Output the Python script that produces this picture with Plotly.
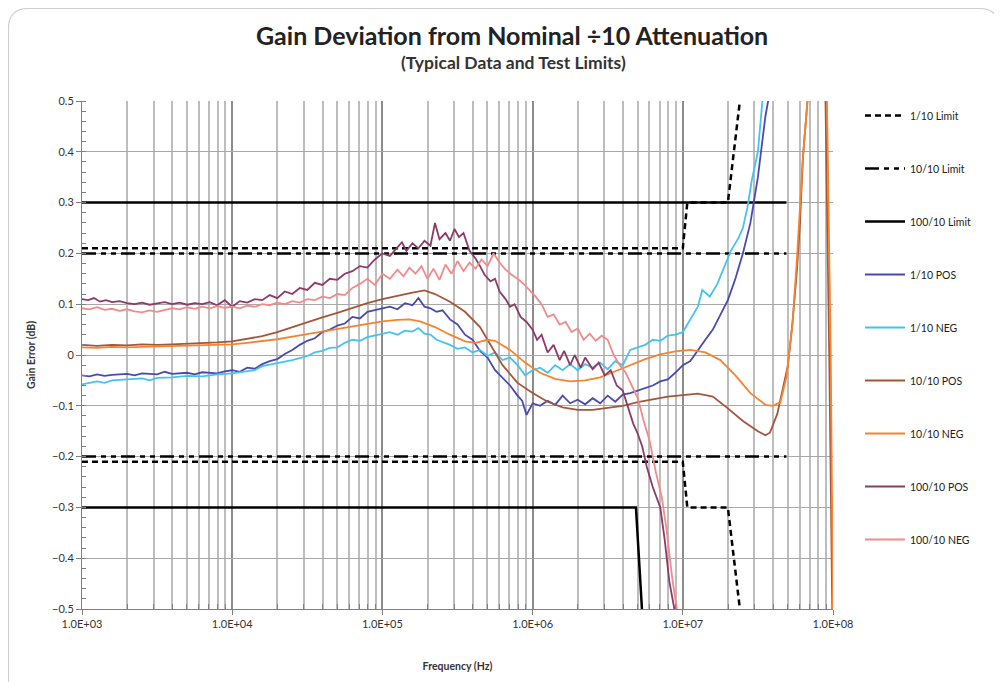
import plotly.graph_objects as go

# ---------------- data (x given as log10 of frequency in Hz) ----------------
LIM_1_10_X = [3.0, 7.0, 7.03, 7.30, 7.38, None, 3.0, 7.0, 7.03, 7.30, 7.38]
LIM_1_10_Y = [0.21, 0.21, 0.30, 0.30, 0.50, None, -0.21, -0.21, -0.30, -0.30, -0.50]

LIM_10_10_X = [3.0, 7.69, None, 3.0, 7.69]
LIM_10_10_Y = [0.20, 0.20, None, -0.20, -0.20]

LIM_100_10_X = [3.0, 7.69, None, 3.0, 6.688, 6.728]
LIM_100_10_Y = [0.30, 0.30, None, -0.30, -0.30, -0.50]

POS_1_X = [3.00, 3.05, 3.10, 3.15, 3.20, 3.30, 3.35, 3.40, 3.50, 3.55, 3.60, 3.70, 3.75, 3.80,
           3.90, 3.95, 4.00, 4.05, 4.10, 4.15, 4.20, 4.25, 4.30, 4.35, 4.40, 4.45, 4.50, 4.55,
           4.60, 4.65, 4.70, 4.75, 4.80, 4.85, 4.90, 4.95, 5.00, 5.05, 5.10, 5.15, 5.20, 5.24,
           5.28, 5.32, 5.36, 5.40, 5.45, 5.50, 5.55, 5.60, 5.65, 5.70, 5.75, 5.80, 5.85, 5.90,
           5.93, 5.96, 6.00, 6.05, 6.10, 6.15, 6.20, 6.25, 6.30, 6.35, 6.40, 6.45, 6.50, 6.55,
           6.60, 6.65, 6.70, 6.75, 6.80, 6.85, 6.90, 6.95, 7.00, 7.05, 7.10, 7.15, 7.20, 7.25,
           7.30, 7.35, 7.40, 7.45, 7.50, 7.55, 7.58]
POS_1_Y = [-0.040, -0.042, -0.038, -0.041, -0.039, -0.037, -0.040, -0.036, -0.038, -0.033,
           -0.037, -0.035, -0.038, -0.034, -0.036, -0.032, -0.030, -0.033, -0.025, -0.027,
           -0.018, -0.012, -0.008, 0.002, 0.010, 0.020, 0.028, 0.033, 0.045, 0.050, 0.058,
           0.062, 0.075, 0.072, 0.085, 0.088, 0.092, 0.095, 0.090, 0.102, 0.098, 0.112, 0.095,
           0.092, 0.085, 0.088, 0.070, 0.060, 0.040, 0.030, 0.008, -0.005, -0.030, -0.045,
           -0.060, -0.080, -0.090, -0.118, -0.095, -0.100, -0.090, -0.098, -0.080, -0.095,
           -0.088, -0.097, -0.085, -0.095, -0.080, -0.092, -0.078, -0.075, -0.070, -0.065,
           -0.060, -0.052, -0.048, -0.035, -0.020, -0.012, 0.010, 0.030, 0.050, 0.080, 0.108,
           0.150, 0.200, 0.260, 0.350, 0.470, 0.520]

NEG_1_X = [3.00, 3.05, 3.10, 3.15, 3.20, 3.30, 3.40, 3.45, 3.50, 3.60, 3.70, 3.80, 3.90, 4.00,
           4.10, 4.15, 4.20, 4.30, 4.40, 4.50, 4.55, 4.60, 4.65, 4.70, 4.75, 4.80, 4.85, 4.90,
           4.95, 5.00, 5.05, 5.10, 5.15, 5.20, 5.24, 5.28, 5.32, 5.36, 5.40, 5.45, 5.50, 5.55,
           5.60, 5.65, 5.70, 5.75, 5.80, 5.85, 5.90, 5.95, 6.00, 6.05, 6.10, 6.15, 6.20, 6.25,
           6.30, 6.35, 6.40, 6.45, 6.50, 6.55, 6.60, 6.65, 6.70, 6.75, 6.80, 6.85, 6.90, 6.95,
           7.00, 7.05, 7.10, 7.13, 7.18, 7.23, 7.28, 7.32, 7.37, 7.40, 7.43, 7.46, 7.50, 7.53,
           7.55]
NEG_1_Y = [-0.058, -0.055, -0.052, -0.055, -0.050, -0.048, -0.046, -0.050, -0.045, -0.044,
           -0.041, -0.042, -0.038, -0.036, -0.032, -0.030, -0.022, -0.016, -0.010, -0.002,
           0.005, 0.008, 0.014, 0.015, 0.024, 0.030, 0.028, 0.035, 0.038, 0.042, 0.045, 0.040,
           0.048, 0.046, 0.053, 0.042, 0.040, 0.030, 0.025, 0.020, 0.012, 0.015, 0.005, 0.010,
           -0.002, 0.005, -0.010, -0.005, -0.020, -0.040, -0.030, -0.025, -0.035, -0.020,
           -0.030, -0.018, -0.030, -0.018, -0.025, -0.015, -0.028, -0.012, -0.020, 0.010,
           0.015, 0.020, 0.030, 0.028, 0.038, 0.040, 0.045, 0.070, 0.095, 0.128, 0.115, 0.140,
           0.175, 0.205, 0.230, 0.250, 0.290, 0.345, 0.400, 0.500, 0.540]

POS_10_X = [3.00, 3.10, 3.20, 3.30, 3.40, 3.50, 3.60, 3.70, 3.80, 3.90, 4.00, 4.10, 4.20, 4.30,
            4.40, 4.50, 4.60, 4.70, 4.80, 4.90, 5.00, 5.10, 5.20, 5.28, 5.35, 5.45, 5.55, 5.65,
            5.72, 5.80, 5.90, 6.00, 6.10, 6.20, 6.30, 6.40, 6.50, 6.60, 6.70, 6.80, 6.90, 7.00,
            7.10, 7.20, 7.30, 7.40, 7.45, 7.50, 7.55, 7.58, 7.63, 7.67, 7.70, 7.73, 7.76, 7.78,
            7.80, 7.83, 7.88, 7.93, 7.95, 7.975, 7.995]
POS_10_Y = [0.020, 0.018, 0.020, 0.019, 0.021, 0.020, 0.021, 0.022, 0.023, 0.025, 0.027,
            0.032, 0.037, 0.045, 0.055, 0.064, 0.074, 0.083, 0.093, 0.102, 0.110, 0.117,
            0.123, 0.127, 0.120, 0.105, 0.085, 0.055, 0.020, -0.020, -0.055, -0.075, -0.092,
            -0.103, -0.108, -0.108, -0.104, -0.100, -0.093, -0.087, -0.082, -0.079, -0.076,
            -0.082, -0.105, -0.130, -0.140, -0.150, -0.158, -0.153, -0.115, -0.060, -0.020,
            0.063, 0.167, 0.260, 0.390, 0.500, 0.800, 0.800, 0.500, 0.000, -0.500]

NEG_10_X = [3.00, 3.10, 3.20, 3.30, 3.40, 3.50, 3.60, 3.70, 3.80, 3.90, 4.00, 4.10, 4.20, 4.30,
            4.40, 4.50, 4.60, 4.70, 4.80, 4.90, 5.00, 5.10, 5.18, 5.25, 5.35, 5.45, 5.55, 5.62,
            5.70, 5.75, 5.85, 5.95, 6.05, 6.15, 6.25, 6.35, 6.45, 6.55, 6.65, 6.75, 6.85, 6.95,
            7.05, 7.15, 7.25, 7.35, 7.45, 7.55, 7.60, 7.65, 7.69, 7.73, 7.76, 7.80, 7.83, 7.88,
            7.94, 7.96, 7.985, 8.00]
NEG_10_Y = [0.015, 0.014, 0.016, 0.015, 0.016, 0.017, 0.017, 0.018, 0.019, 0.020, 0.021,
            0.024, 0.027, 0.031, 0.036, 0.041, 0.046, 0.051, 0.056, 0.062, 0.066, 0.069,
            0.070, 0.066, 0.055, 0.040, 0.027, 0.024, 0.030, 0.028, 0.010, -0.015, -0.035,
            -0.047, -0.052, -0.050, -0.044, -0.032, -0.020, -0.008, 0.001, 0.007, 0.010,
            0.005, -0.010, -0.040, -0.075, -0.098, -0.100, -0.093, -0.043, 0.060, 0.190,
            0.390, 0.500, 0.800, 0.800, 0.500, 0.000, -0.500]

POS_100_X = [3.00, 3.04, 3.08, 3.12, 3.16, 3.20, 3.25, 3.30, 3.35, 3.40, 3.45, 3.50, 3.55, 3.60,
             3.65, 3.70, 3.75, 3.80, 3.85, 3.90, 3.95, 4.00, 4.05, 4.10, 4.15, 4.20, 4.25, 4.30,
             4.35, 4.40, 4.45, 4.50, 4.55, 4.60, 4.65, 4.70, 4.75, 4.80, 4.85, 4.90, 4.95, 5.00,
             5.05, 5.10, 5.13, 5.16, 5.20, 5.24, 5.28, 5.32, 5.35, 5.38, 5.42, 5.45, 5.48, 5.51,
             5.54, 5.58, 5.62, 5.65, 5.68, 5.72, 5.75, 5.78, 5.82, 5.85, 5.88, 5.92, 5.96, 6.00,
             6.03, 6.06, 6.10, 6.14, 6.18, 6.21, 6.25, 6.28, 6.32, 6.35, 6.40, 6.44, 6.48, 6.52,
             6.56, 6.60, 6.63, 6.67, 6.70, 6.73, 6.76, 6.80, 6.85, 6.88, 6.91, 6.95]
POS_100_Y = [0.110, 0.108, 0.112, 0.105, 0.108, 0.104, 0.106, 0.102, 0.100, 0.103, 0.099,
             0.101, 0.104, 0.100, 0.103, 0.099, 0.102, 0.100, 0.104, 0.098, 0.108, 0.095,
             0.106, 0.103, 0.110, 0.108, 0.118, 0.112, 0.125, 0.120, 0.132, 0.128, 0.142,
             0.138, 0.150, 0.148, 0.160, 0.165, 0.175, 0.172, 0.188, 0.200, 0.195, 0.212,
             0.222, 0.205, 0.220, 0.210, 0.225, 0.215, 0.260, 0.228, 0.240, 0.225, 0.248,
             0.232, 0.240, 0.205, 0.190, 0.175, 0.158, 0.145, 0.150, 0.125, 0.110, 0.095,
             0.100, 0.075, 0.065, 0.050, 0.030, 0.040, 0.005, 0.020, -0.010, 0.008, -0.020,
             0.000, -0.025, -0.005, -0.028, -0.015, -0.040, -0.030, -0.060, -0.070, -0.100,
             -0.135, -0.155, -0.180, -0.220, -0.260, -0.300, -0.365, -0.445, -0.510]

NEG_100_X = [3.00, 3.05, 3.10, 3.15, 3.20, 3.25, 3.30, 3.35, 3.40, 3.45, 3.50, 3.55, 3.60, 3.65,
             3.70, 3.75, 3.80, 3.85, 3.90, 3.95, 4.00, 4.05, 4.10, 4.15, 4.20, 4.25, 4.30, 4.35,
             4.40, 4.45, 4.50, 4.55, 4.60, 4.65, 4.70, 4.75, 4.80, 4.85, 4.90, 4.95, 5.00, 5.05,
             5.10, 5.14, 5.18, 5.22, 5.26, 5.30, 5.34, 5.38, 5.42, 5.46, 5.50, 5.54, 5.58, 5.62,
             5.66, 5.70, 5.74, 5.78, 5.82, 5.86, 5.90, 5.94, 5.98, 6.02, 6.06, 6.10, 6.14, 6.18,
             6.22, 6.26, 6.30, 6.34, 6.38, 6.42, 6.46, 6.50, 6.54, 6.58, 6.62, 6.66, 6.70, 6.74,
             6.78, 6.82, 6.86, 6.89, 6.93, 6.96, 6.98]
NEG_100_Y = [0.092, 0.090, 0.094, 0.089, 0.091, 0.087, 0.090, 0.086, 0.084, 0.088, 0.085,
             0.089, 0.092, 0.090, 0.094, 0.091, 0.095, 0.092, 0.096, 0.093, 0.095, 0.092,
             0.097, 0.095, 0.100, 0.098, 0.103, 0.100, 0.106, 0.103, 0.110, 0.108, 0.115,
             0.112, 0.120, 0.118, 0.132, 0.140, 0.150, 0.138, 0.160, 0.150, 0.168, 0.155,
             0.172, 0.160, 0.175, 0.150, 0.170, 0.148, 0.178, 0.160, 0.185, 0.165, 0.182,
             0.170, 0.188, 0.175, 0.200, 0.182, 0.168, 0.158, 0.150, 0.140, 0.128, 0.115,
             0.100, 0.075, 0.080, 0.060, 0.065, 0.045, 0.052, 0.030, 0.042, 0.028, 0.038,
             0.030, 0.000, -0.020, -0.035, -0.060, -0.085, -0.130, -0.170, -0.230, -0.280,
             -0.340, -0.440, -0.500, -0.540]

TICK_EXP = [3, 4, 5, 6, 7, 8]
TICK_TEXT = ["1.0E+03", "1.0E+04", "1.0E+05", "1.0E+06", "1.0E+07", "1.0E+08"]
MINOR_DIGITS = [2, 3, 4, 5, 6, 7, 8, 9]

# ---------------- figure ----------------
OFF = 8                      # page body margin
W, H = 994, 674              # figure size (page extends to 1002 x 682)
ML, MR, MT, MB = 74, 169, 93, 73
PW, PH = W - ML - MR, H - MT - MB


def px(xp):                  # page pixel -> paper x
    return (xp - OFF - ML) / PW


def py(yp):                  # page pixel -> paper y
    return (H - MB - (yp - OFF)) / PH


def hz(lst):
    return [None if v is None else 10 ** v for v in lst]


FONT = "Lato, 'Open Sans', sans-serif"

series = [
    ("1/10 Limit", LIM_1_10_X, LIM_1_10_Y, "#000000", 2.5, "6px,4px"),
    ("10/10 Limit", LIM_10_10_X, LIM_10_10_Y, "#000000", 2.5, "14px,5px,5px,5px,5px,5px"),
    ("100/10 Limit", LIM_100_10_X, LIM_100_10_Y, "#000000", 2.5, "solid"),
    ("1/10 POS", POS_1_X, POS_1_Y, "#4A4AAE", 1.8, "solid"),
    ("1/10 NEG", NEG_1_X, NEG_1_Y, "#45C3F0", 1.8, "solid"),
    ("10/10 POS", POS_10_X, POS_10_Y, "#A3573A", 1.8, "solid"),
    ("10/10 NEG", NEG_10_X, NEG_10_Y, "#F8832E", 1.8, "solid"),
    ("100/10 POS", POS_100_X, POS_100_Y, "#8C3A68", 1.8, "solid"),
    ("100/10 NEG", NEG_100_X, NEG_100_Y, "#F38A8A", 1.8, "solid"),
]

fig = go.Figure()
for i, (name, xs, ys, col, w, dash) in enumerate(series):
    fig.add_trace(go.Scatter(
        x=hz(xs), y=ys, mode="lines", name=name, legendgroup=f"g{i}",
        line=dict(color=col, width=w, dash=dash), connectgaps=False,
    ))

minor_vals = [d * 10 ** e for e in TICK_EXP[:-1] for d in MINOR_DIGITS]

fig.update_xaxes(
    type="log", range=[3, 8],
    tickmode="array", tickvals=[10 ** e for e in TICK_EXP], ticktext=TICK_TEXT,
    showgrid=True, gridcolor="#8C8C8C", gridwidth=1.5,
    ticks="outside", ticklen=5, tickcolor="#808080",
    showline=True, linecolor="#808080", linewidth=1,
    tickfont=dict(family=FONT, size=11, color="#333333"),
    minor=dict(tickmode="array", tickvals=minor_vals, showgrid=True,
               gridcolor="#BDBDBD", gridwidth=1.5, ticks="inside", ticklen=5,
               tickcolor="#808080"),
    title=dict(text="<b>Frequency (Hz)</b>", standoff=33,
               font=dict(family=FONT, size=10.5, color="#333333")),
    zeroline=False,
)
fig.update_yaxes(
    range=[-0.5, 0.5], dtick=0.1, tick0=0,
    showgrid=True, gridcolor="#A8A8A8", gridwidth=1.3,
    ticks="outside", ticklen=5, tickcolor="#808080",
    showline=True, linecolor="#808080", linewidth=1,
    tickfont=dict(family=FONT, size=11, color="#333333"),
    minor=dict(dtick=0.02, ticks="inside", ticklen=4, tickcolor="#808080", showgrid=False),
    title=dict(text="<b>Gain Error (dB)</b>", standoff=14,
               font=dict(family=FONT, size=10.5, color="#333333")),
    zeroline=False,
)

# rounded frame around the chart (page pixel positions converted to paper units)
L, T, R, B, r = 8.5, 8.5, 999, 690, 20
frame = (f"M {px(L)},{py(B)} L {px(L)},{py(T + r)} Q {px(L)},{py(T)} {px(L + r)},{py(T)} "
         f"L {px(R - r)},{py(T)} Q {px(R)},{py(T)} {px(R)},{py(T + r)} L {px(R)},{py(B)}")

fig.update_layout(
    width=W, height=H,
    margin=dict(l=ML, r=MR, t=MT, b=MB),
    paper_bgcolor="white", plot_bgcolor="white",
    font=dict(family=FONT, color="#333333"),
    showlegend=True,
    legend=dict(x=px(860), y=py(101), xanchor="left", yanchor="top",
                tracegroupgap=34, font=dict(family=FONT, size=10.5, color="#222222"),
                bgcolor="rgba(0,0,0,0)", itemwidth=40),
    shapes=[dict(type="path", path=frame, xref="paper", yref="paper",
                 line=dict(color="#CFCFCF", width=1.2), layer="below")],
    annotations=[
        dict(text="<b>Gain Deviation from Nominal ÷10 Attenuation</b>", x=px(512), y=py(35),
             xref="paper", yref="paper", showarrow=False, xanchor="center", yanchor="middle",
             font=dict(family=FONT, size=25, color="#222222")),
        dict(text="<b>(Typical Data and Test Limits)</b>", x=px(513), y=py(63),
             xref="paper", yref="paper", showarrow=False, xanchor="center", yanchor="middle",
             font=dict(family=FONT, size=17.5, color="#333333")),
    ],
)

fig.write_html("out.html")
